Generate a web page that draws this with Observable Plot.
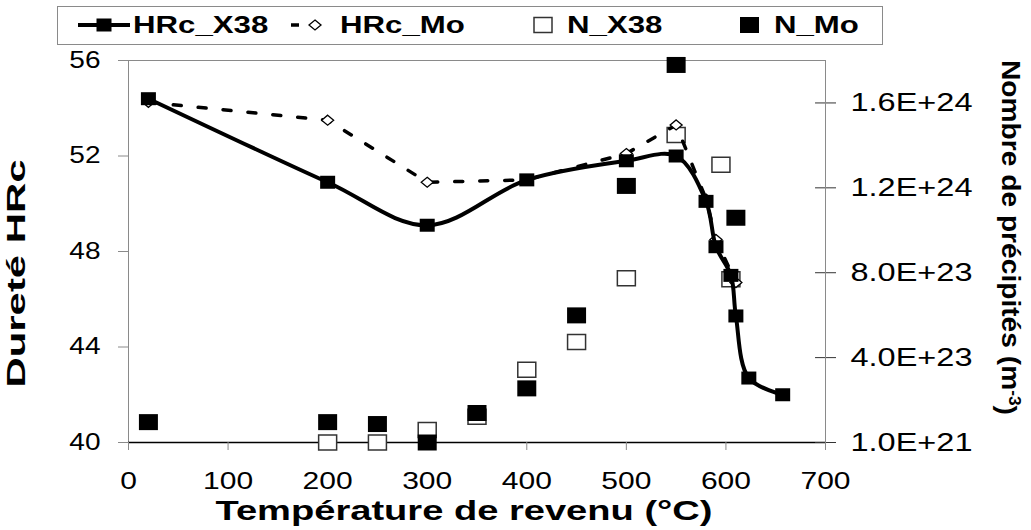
<!DOCTYPE html>
<html><head><meta charset="utf-8">
<script src="https://cdn.jsdelivr.net/npm/d3@7"></script>
<script src="https://cdn.jsdelivr.net/npm/@observablehq/plot@0.6"></script>
<style>
body{margin:0;background:#fff;font-family:"Liberation Sans",Arial,sans-serif;}
#wrap{position:relative;width:1031px;height:530px;overflow:hidden;}
#legend{position:absolute;left:0;top:0;}
#chart{position:absolute;left:0;top:50px;}
</style></head><body>
<div id="wrap"><svg id="legend" width="1031" height="50"></svg><div id="chart"></div></div>
<script>
// ---- data ----
const temps_HRc_X38 = [20, 200, 300, 400, 500, 550, 580, 590, 605, 610, 623, 657];
const HRc_X38 = [54.4, 50.9, 49.1, 51.0, 51.8, 52.0, 50.1, 48.2, 47.0, 45.3, 42.7, 42.0];
const temps_HRc_Mo = [20, 200, 300, 400, 500, 550, 580, 590, 610];
const HRc_Mo = [54.25, 53.5, 50.9, 51.0, 52.1, 53.3, 50.2, 48.5, 46.7];
const temps_N_X38 = [200, 250, 300, 350, 400, 450, 500, 550, 595, 605];
const N_X38 = [1e21, 1e21, 6.0e22, 1.22e23, 3.44e23, 4.75e23, 7.75e23, 1.45e24, 1.31e24, 7.7e23];
const temps_N_Mo = [20, 200, 250, 300, 350, 400, 450, 500, 550, 610];
const N_Mo = [9.7e22, 9.7e22, 8.8e22, 1e21, 1.4e23, 2.56e23, 6.0e23, 1.21e24, 1.78e24, 1.06e24];
const xTicks = [0, 100, 200, 300, 400, 500, 600, 700];
const yTicks = [40, 44, 48, 52, 56];
const nTicks = [1e21, 4.01e23, 8.01e23, 1.201e24, 1.601e24];
const seriesNames = ["HRc_X38", "HRc_Mo", "N_X38", "N_Mo"];
const xTitle = "Température de revenu (°C)";
const yTitle = "Dureté HRc";
const y2Title = "Nombre de précipités (m-3)";

// ---- secondary axis mapping ----
const yDom = [40, 56], nDom = [1e21, 1.801e24];
const nToY = n => yDom[0] + (n - nDom[0]) / (nDom[1] - nDom[0]) * (yDom[1] - yDom[0]);
const yToN = y => nDom[0] + (y - yDom[0]) / (yDom[1] - yDom[0]) * (nDom[1] - nDom[0]);
const fmtE = v => d3.format(".1e")(v).toUpperCase();

const x38 = temps_HRc_X38.map((t, i) => ({t, v: HRc_X38[i]}));
const mo = temps_HRc_Mo.map((t, i) => ({t, v: HRc_Mo[i]}));
const nx38 = temps_N_X38.map((t, i) => ({t, v: nToY(N_X38[i])}));
const nmo = temps_N_Mo.map((t, i) => ({t, v: nToY(N_Mo[i])}));

const rectSym = (w, h) => ({draw(c) {c.moveTo(-w/2, -h/2); c.lineTo(w/2, -h/2); c.lineTo(w/2, h/2); c.lineTo(-w/2, h/2); c.closePath();}});
const diamSym = (w, h) => ({draw(c) {c.moveTo(0, -h/2); c.lineTo(w/2, 0); c.lineTo(0, h/2); c.lineTo(-w/2, 0); c.closePath();}});

const chart = Plot.plot({
  width: 1031, height: 480,
  marginLeft: 128, marginRight: 206, marginTop: 10, marginBottom: 88,
  style: {fontFamily: "'Liberation Sans', Arial, sans-serif", fontSize: "23px", color: "black", background: "white", overflow: "visible"},
  x: {domain: [0, 700]},
  y: {domain: yDom},
  marks: [
    Plot.frame({stroke: "#8a8a8a"}),
    Plot.ruleY([40], {stroke: "black", strokeWidth: 1.5}),
    Plot.axisX({ticks: xTicks, tickSize: 8, tickPadding: 21, stroke: "#8a8a8a", fill: "black", fontSize: 24, label: null}),
    Plot.axisY({anchor: "left", ticks: yTicks, tickSize: 10, tickPadding: 18, stroke: "#8a8a8a", fill: "black", fontSize: 23, label: null}),
    Plot.axisY({anchor: "right", ticks: nTicks.map(nToY), tickFormat: y => fmtE(yToN(y)), tickSize: 10, tickPadding: 15, stroke: "#333", fill: "black", fontSize: 25, label: null}),
    Plot.ruleY(nTicks.map(nToY), {x1: 690, x2: 700, stroke: "#333"}),
    Plot.dot(nx38, {x: "t", y: "v", symbol: rectSym(18, 15), r: 5, fill: "white", stroke: "#333", strokeWidth: 1.5}),
    Plot.dot(nmo, {x: "t", y: "v", symbol: rectSym(19, 16), r: 5, fill: "black", stroke: "none"}),
    Plot.line(mo, {x: "t", y: "v", stroke: "black", strokeWidth: 3.5, strokeDasharray: "8,17"}),
    Plot.dot(mo, {x: "t", y: "v", symbol: diamSym(12, 10), r: 5, fill: "white", stroke: "black", strokeWidth: 1.3}),
    Plot.line(x38, {x: "t", y: "v", curve: "catmull-rom", stroke: "black", strokeWidth: 4}),
    Plot.dot(x38, {x: "t", y: "v", symbol: rectSym(15, 13), r: 5, fill: "black", stroke: "none"}),
    Plot.text([xTitle], {text: d => d, frameAnchor: "bottom", textAnchor: "middle", lineAnchor: "middle", dx: -13, dy: 69, fontSize: 27, fontWeight: "bold"}),
    Plot.text([yTitle], {text: d => d, frameAnchor: "left", textAnchor: "middle", lineAnchor: "middle", dx: -112, dy: 22, rotate: -90, fontSize: 26, fontWeight: "bold"}),
    Plot.text([y2Title], {text: d => d, frameAnchor: "right", textAnchor: "middle", lineAnchor: "middle", dx: 185, dy: -14, rotate: 90, fontSize: 26, fontWeight: "bold"})
  ]
});
document.getElementById("chart").appendChild(chart);

// stretch text horizontally like the reference
function setLen(t, len) { t.setAttribute("textLength", (+len).toFixed(1)); t.setAttribute("lengthAdjust", "spacingAndGlyphs"); }
const groups = [...chart.querySelectorAll("g[aria-label]")];
groups.filter(g => g.getAttribute("aria-label") === "y-axis tick label").forEach(g => {
  g.querySelectorAll("text").forEach(t => setLen(t, t.getComputedTextLength() * (t.textContent.includes("E") ? 1.3 : 1.22)));
});
groups.filter(g => g.getAttribute("aria-label") === "x-axis tick label").forEach(g => {
  g.querySelectorAll("text").forEach(t => setLen(t, t.getComputedTextLength() * 1.25));
});
chart.querySelectorAll("text").forEach(t => {
  if (t.textContent === xTitle) setLen(t, 497);
  if (t.textContent === yTitle) setLen(t, 228);
  if (t.textContent === y2Title) {
    const s = d3.select(t); s.text(null);
    s.append("tspan").text("Nombre de précipités (m");
    s.append("tspan").attr("dy", "-0.45em").attr("font-size", "16px").text("-3");
    s.append("tspan").attr("dy", "0.45em").text(")");
    setLen(t, 355);
  }
});

// ---- legend ----
const lg = d3.select("#legend");
lg.append("rect").attr("x", 57.5).attr("y", 6.5).attr("width", 825).attr("height", 38).attr("fill", "white").attr("stroke", "#8a8a8a");
const cy = 25;
lg.append("line").attr("x1", 78).attr("x2", 130).attr("y1", cy).attr("y2", cy).attr("stroke", "black").attr("stroke-width", 4);
lg.append("rect").attr("x", 104 - 7.5).attr("y", cy - 6.5).attr("width", 15).attr("height", 13).attr("fill", "black");
lg.append("line").attr("x1", 291).attr("x2", 299).attr("y1", cy).attr("y2", cy).attr("stroke", "black").attr("stroke-width", 3.5);
lg.append("path").attr("d", `M315,${cy-5}L321,${cy}L315,${cy+5}L309,${cy}Z`).attr("fill", "white").attr("stroke", "black").attr("stroke-width", 1.3);
lg.append("rect").attr("x", 534).attr("y", cy - 7.5).attr("width", 18).attr("height", 15).attr("fill", "white").attr("stroke", "#333").attr("stroke-width", 1.5);
lg.append("rect").attr("x", 740).attr("y", cy - 8).attr("width", 19).attr("height", 16).attr("fill", "black");
const lx = [133, 340, 567, 774];
seriesNames.forEach((n, i) => {
  const t = lg.append("text").attr("x", lx[i]).attr("y", cy + 8).attr("font-family", "'Liberation Sans', Arial, sans-serif")
    .attr("font-weight", "bold").attr("font-size", 24).text(n).node();
  setLen(t, t.getComputedTextLength() * 1.3);
});
</script></body></html>
